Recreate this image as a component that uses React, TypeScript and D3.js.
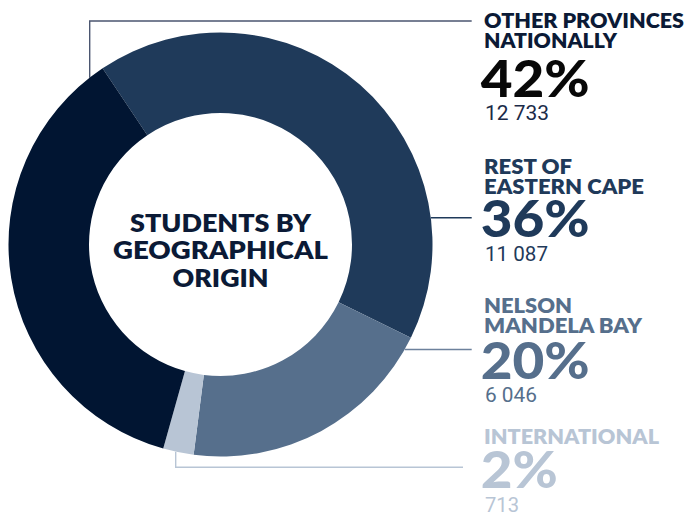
import React from "react";
import * as d3 from "d3";

const categories = ["OTHER PROVINCES NATIONALLY", "NELSON MANDELA BAY", "INTERNATIONAL", "REST OF EASTERN CAPE"];
const labelLines = [["OTHER PROVINCES", "NATIONALLY"], ["NELSON", "MANDELA BAY"], ["INTERNATIONAL"], ["REST OF", "EASTERN CAPE"]];
const counts = [12733, 6046, 713, 11087];
const countLabels = ["12 733", "6 046", "713", "11 087"];
const percentLabels = ["42%", "20%", "2%", "36%"];
const centerTitle = ["STUDENTS BY", "GEOGRAPHICAL", "ORIGIN"];

const sliceColors = ["#1f3a5a", "#566f8c", "#b8c5d5", "#011532"];
const labelColors = ["#0b1a36", "#566f8c", "#b8c5d5", "#1f3a5a"];
const pctColors = ["#080808", "#566f8c", "#b8c5d5", "#1f3a5a"];
const countColors = ["#1b2a48", "#566f8c", "#b8c5d5", "#1f3a5a"];
const lineColors = ["#4b5670", "#6d819c", "#b8c5d5", "#1f3a5a"];

const W = 690, H = 514;
const cx = 220.5, cy = 244.5, R = 212, r = 131.5;
const labelX = 484;
// layout: baselines per block
const labelY = [28.3, 313.3, 444, 174];
const pctY = [97.3, 379.3, 488.3, 237.3];
const cntY = [120, 401.7, 512.3, 260.7];
const lineW = [[200, 133], [88, 158], [175], [88, 160]];
const pctW = [109, 109, 77, 109];
const countW = [64, 52, 34, 63];
const centerW = [181, 215, 96];

const boldFont = "Lato, 'Noto Sans', sans-serif";
const numFont = "Roboto, 'Liberation Sans', sans-serif";

export default function App() {
  const start = (-33.8 * Math.PI) / 180;
  const pie = d3.pie<number>().sort(null).value((d) => d).startAngle(start).endAngle(start + 2 * Math.PI);
  const arcs = pie(counts);
  const arc = d3.arc<d3.PieArcDatum<number>>().innerRadius(r).outerRadius(R);

  const ringY = (x: number, sign: number) => cy + sign * Math.sqrt(R * R - (x - cx) * (x - cx));
  const ringX = (y: number) => cx + Math.sqrt(R * R - (y - cy) * (y - cy));

  const x1 = 89.7, y1 = 21;
  const x4 = 175.7, y4 = 467.3;
  const yEC = 217.7, yNMB = 349.5;
  const connectors = [
    { d: `M${x1},${ringY(x1, -1)}V${y1}H471.7`, c: lineColors[0] },
    { d: `M${ringX(yNMB)},${yNMB}H471.7`, c: lineColors[1] },
    { d: `M${x4},${ringY(x4, 1)}V${y4}H463`, c: lineColors[2] },
    { d: `M${ringX(yEC)},${yEC}H471.7`, c: lineColors[3] },
  ];

  return (
    <svg width={W} height={H} style={{ position: "absolute", left: 0, top: 0, background: "#fff" }}>
      {connectors.map((c, i) => (
        <path key={i} d={c.d} fill="none" stroke={c.c} strokeWidth={1.4} />
      ))}
      <g transform={`translate(${cx},${cy})`}>
        {arcs.map((a, i) => (
          <path key={categories[i]} d={arc(a) || ""} fill={sliceColors[i]} />
        ))}
      </g>
      {centerTitle.map((t, i) => (
        <text key={t} x={cx} y={231.7 + i * 27.5} textAnchor="middle" fontFamily={boldFont} fontWeight={800}
          fontSize={23.5} fill="#0b1a36" textLength={centerW[i]} lengthAdjust="spacingAndGlyphs">{t}</text>
      ))}
      {categories.map((cat, i) => (
        <g key={cat}>
          {labelLines[i].map((l, j) => (
            <text key={l} x={labelX} y={labelY[i] + j * 20} fontFamily={boldFont} fontWeight={800} fontSize={20}
              fill={labelColors[i]} textLength={lineW[i][j]} lengthAdjust="spacingAndGlyphs">{l}</text>
          ))}
          <text x={480.7} y={pctY[i]} fontFamily={boldFont} fontWeight={900} fontSize={51} fill={pctColors[i]}
            textLength={pctW[i]} lengthAdjust="spacingAndGlyphs">{percentLabels[i]}</text>
          <text x={485} y={cntY[i]} fontFamily={numFont} fontWeight={400} fontSize={19.5} fill={countColors[i]}
            textLength={countW[i]} lengthAdjust="spacingAndGlyphs">{countLabels[i]}</text>
        </g>
      ))}
    </svg>
  );
}
